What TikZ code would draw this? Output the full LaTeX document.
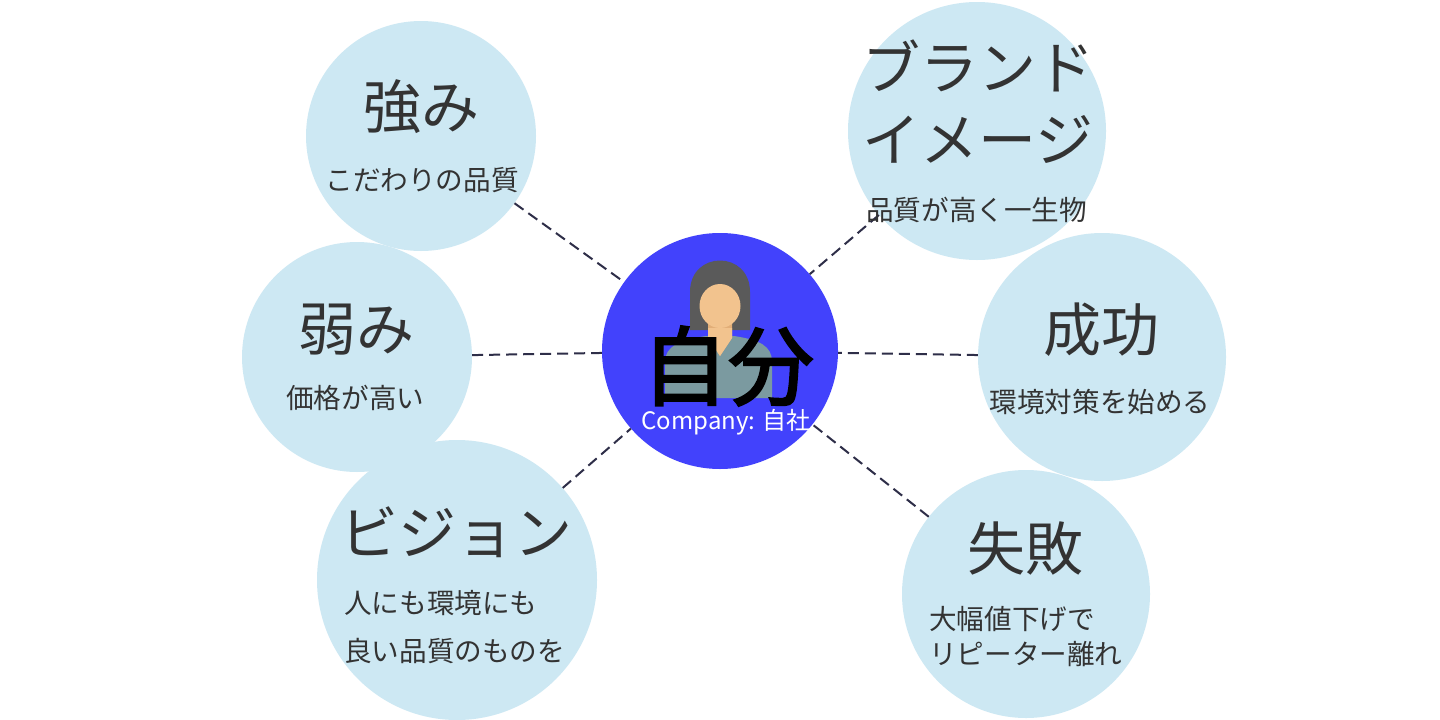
\documentclass[tikz,border=0pt]{standalone}
\usepackage{fontspec}
\newfontfamily\jp{Noto Sans CJK JP}
\newfontfamily\jpb{Noto Sans CJK JP}[FakeBold=2.5]
\definecolor{bubble}{HTML}{CDE8F3}
\definecolor{core}{HTML}{4242FC}
\definecolor{ink}{HTML}{333333}
\definecolor{linkc}{HTML}{2E2E48}
\definecolor{hair}{HTML}{5A5A5A}
\definecolor{skin}{HTML}{F2C38E}
\definecolor{skindark}{HTML}{E2AE78}
\definecolor{shirt}{HTML}{7B9AA0}
\tikzset{
  bub/.style={circle, fill=bubble, inner sep=0pt, minimum size=#1},
  title/.style={font=\jp\fontsize{58}{64}\selectfont, text=ink, inner sep=0pt},
  sub/.style={font=\jp\fontsize{27.6}{30}\selectfont, text=ink, inner sep=0pt},
  link/.style={draw=linkc, line width=2pt, dash pattern=on 11pt off 6pt},
}
\begin{document}
\begin{tikzpicture}[x=1pt,y=-1pt]
\useasboundingbox[fill=white] (0,0) rectangle (1440,720);
% bubbles
\node[bub=230pt] (kyomi) at (421,136) {};
\node[bub=258pt] (brand) at (977,131) {};
\node[bub=230pt] (yowami) at (357,357) {};
\node[bub=248pt] (seiko) at (1102,357) {};
\node[bub=280pt] (vision) at (457,580) {};
\node[bub=248pt] (shippai) at (1026,594) {};
\node[circle, fill=core, inner sep=0pt, minimum size=236pt] (me) at (720,351) {};
% connectors
\draw[link] (kyomi) -- (me);
\draw[link] (yowami) -- (me);
\draw[link] (vision) -- (me);
\draw[link] (brand) -- (me);
\draw[link] (seiko) -- (me);
\draw[link] (shippai) -- (me);
% person icon
\fill[hair] (690,330) -- (690,292) .. controls (690,250) and (750,250) .. (750,292) -- (750,330) -- cycle;
\fill[shirt] (665,398) -- (665,362) .. controls (665,346) and (680,340) .. (706,336) -- (734,336) .. controls (760,340) and (772,346) .. (772,362) -- (772,398) -- cycle;
\fill[skindark] (708,312) -- (708,338) -- (720,356) -- (732,338) -- (732,312) -- cycle;
\fill[skin] (708,328) -- (708,338) -- (720,356) -- (732,338) -- (732,328) -- cycle;
\fill[skin] (720,306) ellipse[x radius=20.5, y radius=22];
\fill[hair] (698,300) .. controls (700,286) and (712,276) .. (740,284) -- (742,276) .. controls (730,268) and (700,270) .. (696,290) -- cycle;
% texts
\node[font=\jpb\fontsize{86}{90}\selectfont, text=black, inner sep=0pt] (metitle) at (728,366) {自分};
\node[font=\jp\fontsize{24}{26}\selectfont, text=white, inner sep=0pt] (mesub) at (726,422) {Company: 自社};
\node[title] (t1) at (421,107) {強み};
\node[sub] (s1) at (422,180) {こだわりの品質};
\node[title, anchor=west] (t2a) at (862,66) {ブランド};
\node[title, anchor=west] (t2b) at (862,139) {イメージ};
\node[sub, anchor=west] (s2) at (866,210) {品質が高く一生物};
\node[title] (t3) at (356,330) {弱み};
\node[sub, anchor=west] (s3) at (286,398) {価格が高い};
\node[title] (t4) at (1101,330) {成功};
\node[sub] (s4) at (1100,402) {環境対策を始める};
\node[title, anchor=west] (t5) at (340,532) {ビジョン};
\node[sub, anchor=west] (s5a) at (344,603) {人にも環境にも};
\node[sub, anchor=west] (s5b) at (344,651) {良い品質のものを};
\node[title] (t6) at (1025,548) {失敗};
\node[sub, anchor=west] (s6a) at (929,619) {大幅値下げで};
\node[sub, anchor=west] (s6b) at (929,654) {リピーター離れ};
\end{tikzpicture}
\end{document}
